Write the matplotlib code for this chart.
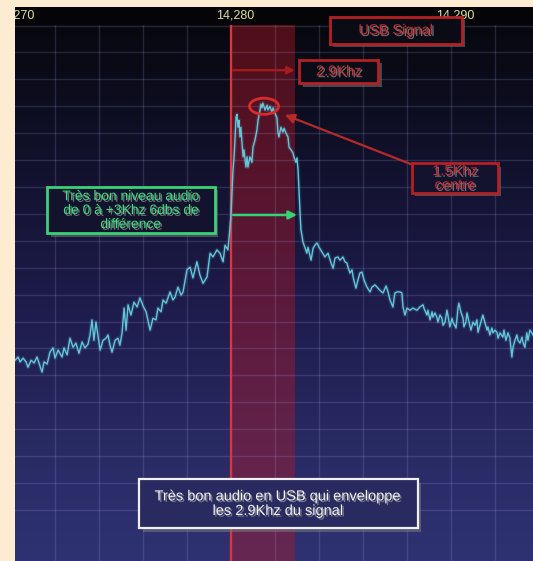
import numpy as np
import matplotlib.pyplot as plt
import matplotlib.patheffects as pe
import matplotlib.transforms as mtransforms
from matplotlib.patches import Rectangle, Ellipse, FancyArrowPatch
from matplotlib.colors import LinearSegmentedColormap

plt.rcParams['font.family'] = ['Liberation Sans', 'DejaVu Sans']

# panadapter trace: frequency (kHz) and level (dB)
freq_khz = [
    14270.18, 14270.32, 14270.41, 14270.55, 14270.68, 14270.77, 14270.91, 14271.05, 14271.18, 14271.32,
    14271.41, 14271.50, 14271.64, 14271.77, 14271.91, 14272.00, 14272.14, 14272.32, 14272.41, 14272.55,
    14272.68, 14272.82, 14272.95, 14273.09, 14273.23, 14273.36, 14273.50, 14273.59, 14273.68, 14273.77,
    14273.86, 14273.95, 14274.05, 14274.18, 14274.32, 14274.41, 14274.50, 14274.59, 14274.73, 14274.86,
    14274.95, 14275.05, 14275.14, 14275.23, 14275.32, 14275.45, 14275.59, 14275.73, 14275.86, 14276.00,
    14276.14, 14276.32, 14276.45, 14276.59, 14276.68, 14276.82, 14276.91, 14277.05, 14277.23, 14277.36,
    14277.45, 14277.59, 14277.73, 14277.82, 14278.00, 14278.14, 14278.27, 14278.45, 14278.59, 14278.73,
    14278.91, 14279.05, 14279.18, 14279.36, 14279.50, 14279.64, 14279.73, 14279.86, 14279.91, 14280.00,
    14280.05, 14280.09, 14280.14, 14280.18, 14280.23, 14280.27, 14280.32, 14280.36, 14280.41, 14280.45,
    14280.50, 14280.55, 14280.59, 14280.68, 14280.73, 14280.77, 14280.86, 14280.95, 14281.00, 14281.09,
    14281.18, 14281.23, 14281.32, 14281.36, 14281.41, 14281.45, 14281.55, 14281.64, 14281.68, 14281.77,
    14281.86, 14281.91, 14282.00, 14282.09, 14282.14, 14282.18, 14282.27, 14282.36, 14282.41, 14282.50,
    14282.59, 14282.64, 14282.73, 14282.82, 14282.86, 14282.95, 14283.00, 14283.05, 14283.09, 14283.14,
    14283.18, 14283.23, 14283.27, 14283.45, 14283.50, 14283.64, 14283.73, 14283.82, 14283.91, 14284.00,
    14284.14, 14284.27, 14284.41, 14284.55, 14284.64, 14284.73, 14284.86, 14284.95, 14285.05, 14285.09,
    14285.18, 14285.27, 14285.32, 14285.41, 14285.50, 14285.55, 14285.68, 14285.77, 14285.86, 14285.95,
    14286.05, 14286.18, 14286.32, 14286.41, 14286.55, 14286.64, 14286.77, 14286.91, 14287.05, 14287.14,
    14287.23, 14287.36, 14287.45, 14287.55, 14287.68, 14287.77, 14287.82, 14287.91, 14288.00, 14288.14,
    14288.27, 14288.45, 14288.59, 14288.73, 14288.77, 14288.91, 14288.95, 14289.05, 14289.14, 14289.18,
    14289.27, 14289.36, 14289.41, 14289.50, 14289.59, 14289.64, 14289.73, 14289.82, 14289.86, 14289.95,
    14290.05, 14290.09, 14290.23, 14290.32, 14290.36, 14290.45, 14290.55, 14290.59, 14290.68, 14290.73,
    14290.82, 14290.91, 14291.00, 14291.09, 14291.18, 14291.23, 14291.32, 14291.45, 14291.55, 14291.64,
    14291.68, 14291.77, 14291.86, 14291.91, 14292.00, 14292.09, 14292.14, 14292.23, 14292.36, 14292.41,
    14292.50, 14292.59, 14292.68, 14292.77, 14292.82, 14292.91, 14293.00, 14293.05, 14293.14, 14293.23,
    14293.27, 14293.36, 14293.45, 14293.50, 14293.59, 14293.68, 14293.73,
]
level_db = [
    -92.2, -91.6, -92.5, -91.8, -92.5, -93.5, -92.2, -92.7, -91.6, -93.3,
    -94.4, -92.5, -92.9, -90.7, -89.9, -91.8, -90.3, -91.6, -89.9, -91.2,
    -88.1, -89.8, -89.0, -90.9, -88.8, -89.9, -89.2, -87.5, -84.7, -88.5,
    -85.1, -87.5, -90.3, -88.5, -88.1, -87.5, -89.4, -90.7, -88.5, -88.1,
    -89.4, -87.0, -82.5, -86.6, -81.9, -83.8, -81.4, -82.3, -80.6, -82.1,
    -83.2, -86.6, -84.4, -84.7, -82.5, -83.2, -81.0, -81.6, -79.5, -81.0,
    -80.5, -78.6, -80.1, -79.5, -75.4, -74.9, -76.9, -73.9, -76.4, -77.9,
    -76.7, -72.3, -73.0, -71.7, -72.3, -73.9, -70.8, -71.7, -69.5, -65.2,
    -60.6, -56.9, -54.4, -51.3, -47.0, -46.5, -48.9, -47.6, -50.7, -48.9,
    -51.8, -54.4, -53.1, -56.3, -54.4, -56.3, -54.4, -55.4, -52.6, -51.3,
    -49.4, -47.6, -45.7, -44.6, -45.3, -44.4, -45.7, -44.8, -45.7, -45.0,
    -46.1, -45.3, -46.3, -47.2, -50.0, -50.7, -48.9, -49.8, -49.1, -50.0,
    -50.7, -52.6, -53.1, -53.7, -54.4, -55.4, -54.6, -56.9, -60.6, -64.9,
    -68.0, -69.1, -70.2, -72.3, -71.2, -73.6, -71.4, -70.8, -70.4, -71.2,
    -72.1, -73.0, -72.3, -74.1, -75.1, -73.2, -73.0, -73.6, -73.2, -73.0,
    -73.9, -74.1, -74.9, -76.0, -75.4, -76.7, -78.8, -77.3, -76.0, -75.8,
    -77.3, -78.6, -79.5, -78.6, -78.2, -78.6, -79.2, -79.7, -78.4, -79.5,
    -81.0, -82.3, -79.7, -79.5, -79.5, -79.7, -82.3, -83.8, -82.5, -82.9,
    -82.5, -82.9, -82.3, -81.9, -82.5, -83.8, -82.9, -84.7, -83.2, -84.2,
    -83.4, -84.2, -85.1, -83.8, -84.4, -85.7, -85.1, -82.9, -83.8, -86.0,
    -84.4, -85.1, -86.2, -82.5, -81.6, -83.2, -84.4, -86.0, -85.1, -83.4,
    -85.1, -86.6, -85.1, -85.7, -84.7, -87.0, -85.7, -83.8, -85.3, -86.6,
    -86.0, -87.5, -86.2, -87.1, -86.6, -87.0, -88.1, -87.1, -87.9, -86.6,
    -88.5, -87.1, -88.1, -91.6, -89.8, -88.5, -87.5, -88.5, -89.0, -87.9,
    -88.8, -89.8, -87.1, -88.5, -86.6, -87.1, -87.5,
]

tick_freqs = [14270, 14280, 14290]
tick_labels = ["14,270", "14,280", "14,290"]

dial_khz = 14280.0        # VFO / carrier position
passband_khz = 2.9        # USB filter width
audio_span_khz = 3.0      # 0 to +3 kHz audio range
centre_offset_khz = 1.5   # centre of the audio hump

W, H = 533, 561
fig = plt.figure(figsize=(W / 100, H / 100), dpi=100)
fig.patch.set_facecolor('#fdebd2')


def px_rect(x0, y0, x1, y1):
    # pixel box measured from the top-left corner -> figure fraction rect
    return [x0 / W, 1 - y1 / H, (x1 - x0) / W, (y1 - y0) / H]


xlim = (14270.18, 14293.73)
ylim = (-129.5, -29.9)

# frequency scale strip on top
strip = fig.add_axes(px_rect(15, 7, 533, 25))
strip.set_facecolor('#050508')
strip.set_xlim(*xlim)
strip.set_ylim(0, 1)
strip.set_axis_off()
strip.add_patch(Rectangle((0, 0), 1, 1, transform=strip.transAxes, color='#050508', zorder=0))
# labels sit a few pixels right of their grid line
label_tr = mtransforms.offset_copy(strip.transData, fig=fig, x=4, y=0, units='dots')
for f, lab in zip(tick_freqs, tick_labels):
    strip.text(f, 0.55, lab, ha='center', va='center', fontsize=9, color='#dede98',
               transform=label_tr, clip_on=True)

ax = fig.add_axes(px_rect(15, 25, 533, 561))
ax.set_zorder(strip.get_zorder() + 1)
ax.set_xlim(*xlim)
ax.set_ylim(*ylim)

# dark background fading to blue toward the bottom
bg = LinearSegmentedColormap.from_list(
    'pan', [(0.0, '#2e3272'), (0.2, '#292b64'), (0.45, '#1f1d4e'),
            (0.75, '#11112c'), (1.0, '#07080e')])
grad = np.linspace(0, 1, 256).reshape(-1, 1)
ax.imshow(grad, extent=[*xlim, *ylim], origin='lower', aspect='auto', cmap=bg, zorder=0)

ax.set_xticks(np.arange(14272, 14294, 2))
ax.set_yticks(np.arange(-120, -29, 5))
ax.grid(True, color='#b4b4ff', alpha=0.17, lw=1.0)
ax.tick_params(length=0, labelbottom=False, labelleft=False)
for s in ax.spines.values():
    s.set_visible(False)

# receive passband and dial marker
ax.axvspan(dial_khz, dial_khz + passband_khz, color='#b41828', alpha=0.42, lw=0, zorder=1)
ax.axvline(dial_khz, color='#e83232', lw=1.6, zorder=3)

# spectrum trace with a soft glow
ax.plot(freq_khz, level_db, color='#5ec4dc', lw=3.0, alpha=0.15, zorder=4)
ax.plot(freq_khz, level_db, color='#64c6da', lw=1.0, zorder=4)

box_shadow = [pe.withSimplePatchShadow(offset=(2.5, -2.5), shadow_rgbFace='#7a7a7a', alpha=0.55)]
text_shadow = [pe.withSimplePatchShadow(offset=(1.2, -1.2), shadow_rgbFace='#9a9a9a', alpha=0.7)]


def note(x0, x1, y0, y1, text, color, edge, face, size, lw=2.0, ls=1.0):
    ax.add_patch(Rectangle((x0, y1), x1 - x0, y0 - y1, facecolor=face, edgecolor=edge,
                           lw=lw, clip_on=False, zorder=6, path_effects=box_shadow))
    ax.text((x0 + x1) / 2, (y0 + y1) / 2, text, ha='center', va='center', fontsize=size,
            color=color, linespacing=ls, zorder=7, clip_on=False, path_effects=text_shadow)


def arrow(start, end, color, lw, scale):
    ax.add_patch(FancyArrowPatch(start, end, arrowstyle='-|>', mutation_scale=scale,
                                 color=color, lw=lw, zorder=5, clip_on=False,
                                 shrinkA=0, shrinkB=0))


note(14284.5, 14290.5, -28.4, -33.4, "USB Signal", '#cc2c34', '#b42024', '#0b0b15', 10.5)

arrow((dial_khz + 0.1, -38.3), (dial_khz + passband_khz, -38.3), '#a81c1c', 1.6, 11)
note(14283.1, 14286.7, -36.4, -40.7, "2.9Khz", '#cc2c34', '#b42024', '#0c0c18', 10.5)

ax.add_patch(Ellipse((dial_khz + centre_offset_khz, -45.0), 1.32, 3.0, fill=False,
                     edgecolor='#d82c2c', lw=2.0, zorder=6))
arrow((14288.27, -55.9), (14282.45, -46.6), '#b82a2a', 1.6, 14)
note(14288.23, 14292.14, -55.6, -61.1, "1.5Khz\ncentre", '#cc2c34', '#b42024', '#13132e', 10.5)

note(14271.64, 14279.27, -60.0, -68.6,
     "Très bon niveau audio\nde 0 à +3Khz 6dbs de\ndifférence",
     '#3ce07e', '#36d474', '#13132e', 10, ls=1.0)
arrow((dial_khz + 0.1, -65.2), (dial_khz + audio_span_khz, -65.2), '#34d476', 1.8, 12)

note(14275.82, 14288.5, -114.3, -123.4,
     "Très bon audio en USB qui enveloppe\nles 2.9Khz du signal",
     '#f2f2f2', '#f0f0f0', '#282a60', 10.5, lw=1.6, ls=1.05)

fig.savefig('out.png', dpi=100, facecolor=fig.get_facecolor())
